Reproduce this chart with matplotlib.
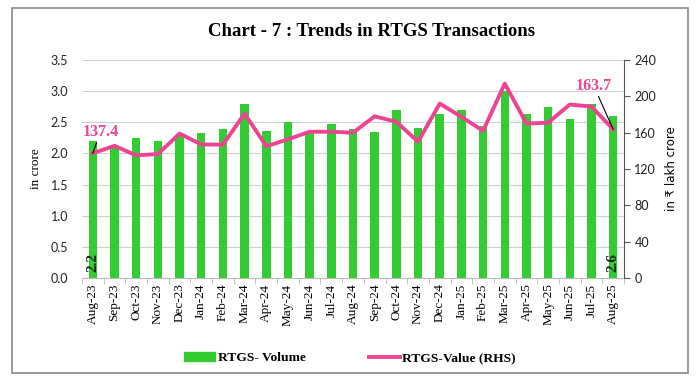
import matplotlib.pyplot as plt
import numpy as np
from matplotlib.patches import Rectangle, Patch
from matplotlib.lines import Line2D

months = ['Aug-23', 'Sep-23', 'Oct-23', 'Nov-23', 'Dec-23', 'Jan-24', 'Feb-24',
          'Mar-24', 'Apr-24', 'May-24', 'Jun-24', 'Jul-24', 'Aug-24', 'Sep-24',
          'Oct-24', 'Nov-24', 'Dec-24', 'Jan-25', 'Feb-25', 'Mar-25', 'Apr-25',
          'May-25', 'Jun-25', 'Jul-25', 'Aug-25']
volume = [2.2, 2.12, 2.25, 2.2, 2.3, 2.32, 2.39, 2.79, 2.36, 2.51, 2.35, 2.47,
          2.39, 2.34, 2.69, 2.41, 2.63, 2.69, 2.44, 3.0, 2.63, 2.75, 2.56,
          2.79, 2.6]
value = [137.4, 145.5, 135.0, 136.5, 159.0, 147.0, 146.8, 181.0, 145.0, 152.7,
         161.0, 161.0, 160.0, 178.0, 172.0, 150.0, 192.0, 177.5, 162.0, 214.0,
         170.0, 171.0, 191.0, 188.7, 163.7]

GREEN = '#33cc33'
PINK = '#ee4392'
SERIF = ['Liberation Serif', 'DejaVu Serif']
SANS = ['Lato', 'DejaVu Sans']

fig = plt.figure(figsize=(6.96, 3.83), dpi=100)
ax = fig.add_axes([82 / 696, 1 - 278 / 383, 542 / 696, 218 / 383])
ax2 = ax.twinx()

x = np.arange(len(months))
ax.bar(x, volume, width=0.39, color=GREEN, zorder=2)
ax.set_ylim(0, 3.5)
ax.set_yticks(np.arange(0, 3.51, 0.5))
ax.set_yticklabels([f'{v:.1f}' for v in np.arange(0, 3.51, 0.5)],
                   fontsize=9, family=SANS, color='#222222')
ax.set_xlim(-0.5, len(months) - 0.5)
ax.set_xticks(x)
ax.set_xticklabels(months, rotation=90, fontsize=9.5, family=SERIF)
ax.set_xticks(np.arange(-0.5, len(months), 1), minor=True)
ax.tick_params(axis='x', which='major', length=0, pad=4)
ax.tick_params(axis='x', which='minor', length=4, color='#bbbbbb')
ax.tick_params(axis='y', length=0, pad=10)
ax.grid(axis='y', color='#d0d0d0', linewidth=0.8, zorder=0)
ax.set_ylabel('in crore', fontsize=9.5, family=SERIF, labelpad=6)
for s in ['top', 'left', 'right']:
    ax.spines[s].set_visible(False)
ax.spines['bottom'].set_color('#bbbbbb')

ax2.plot(x, value, color=PINK, linewidth=2.8, zorder=3)
ax2.set_ylim(0, 240)
ax2.set_yticks(np.arange(0, 241, 40))
ax2.tick_params(axis='y', labelsize=9, direction='out', length=4,
                color='#555555', labelcolor='#222222')
for lab in ax2.get_yticklabels():
    lab.set_family(SANS)
ax2.set_ylabel('in ₹ lakh crore', fontsize=8.5, family=['DejaVu Sans'],
               labelpad=6)
for s in ['top', 'left', 'bottom']:
    ax2.spines[s].set_visible(False)
ax2.spines['right'].set_color('#555555')

# data labels
for i in [0, len(months) - 1]:
    ax.text(x[i], 0.1, f'{volume[i]:.1f}', rotation=90, ha='center',
            va='bottom', fontsize=11, fontweight='bold', family=SERIF,
            color='#1a2a1a', zorder=4)
ax2.annotate(f'{value[0]:.1f}', xy=(x[0], value[0]), xytext=(x[0] + 0.35, 152),
             fontsize=11.5, fontweight='bold', family=SERIF, color=PINK,
             ha='center', va='bottom',
             arrowprops=dict(arrowstyle='-', color='black', lw=0.8,
                             shrinkA=0, shrinkB=0))
ax2.annotate(f'{value[-1]:.1f}', xy=(x[-1], value[-1]),
             xytext=(x[-1] - 0.9, 203), fontsize=11.5, fontweight='bold',
             family=SERIF, color=PINK, ha='center', va='bottom',
             arrowprops=dict(arrowstyle='-', color='black', lw=0.8,
                             shrinkA=0, shrinkB=0))

fig.text(372 / 696, 1 - 31 / 383, 'Chart - 7 : Trends in RTGS Transactions',
         ha='center', va='center', fontsize=13.5, fontweight='bold',
         family=SERIF)

handles = [Patch(color=GREEN), Line2D([], [], color=PINK, linewidth=2.8)]
fig.legend(handles, ['RTGS- Volume', 'RTGS-Value (RHS)'], loc='center',
           bbox_to_anchor=(350 / 696, 1 - 358 / 383), ncol=2, frameon=False,
           prop={'family': SERIF, 'weight': 'bold', 'size': 9.7},
           handlelength=2.3, handleheight=0.6, columnspacing=4.7,
           handletextpad=0.2)

fig.add_artist(Rectangle((12 / 696, 1 - 373 / 383), 676 / 696, 365 / 383,
                         transform=fig.transFigure, fill=False,
                         edgecolor='#888888', linewidth=1.2))

fig.savefig('out.png', dpi=100)
